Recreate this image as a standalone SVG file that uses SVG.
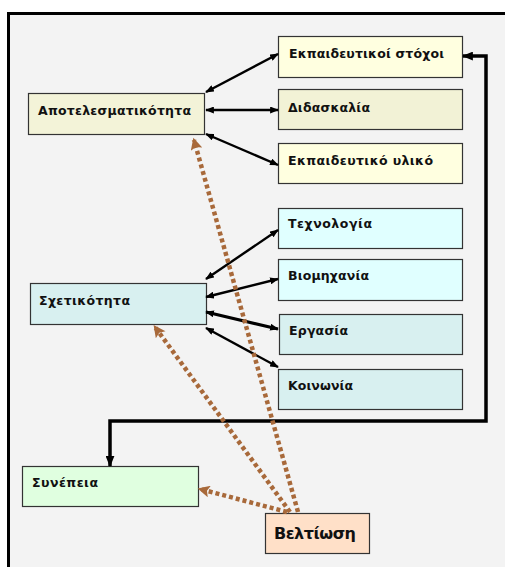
<svg xmlns="http://www.w3.org/2000/svg" width="505" height="567" viewBox="0 0 505 567">
<defs>
<marker id="ah" viewBox="0 0 10 8" refX="9" refY="4" markerWidth="9" markerHeight="7" markerUnits="userSpaceOnUse" orient="auto-start-reverse"><path d="M0,0 L10,4 L0,8 z" fill="#000"/></marker>
<marker id="ahb" viewBox="0 0 10 8" refX="9" refY="4" markerWidth="11" markerHeight="9" markerUnits="userSpaceOnUse" orient="auto-start-reverse"><path d="M0,0 L10,4 L0,8 z" fill="#000"/></marker>
<marker id="ab" viewBox="0 0 10 10" refX="8" refY="5" markerWidth="13" markerHeight="12" markerUnits="userSpaceOnUse" orient="auto"><path d="M0,0 L10,5 L0,10 L2,5 z" fill="#a8693a"/></marker>
</defs>
<style>
.box{stroke:#333;stroke-width:1.2}
.t{font-family:"DejaVu Sans","Liberation Sans",sans-serif;font-weight:bold;font-size:12.5px;fill:#111}
.big{font-size:16px}
.c{fill:none;stroke:#000;stroke-width:2.4}
.d{fill:none;stroke:#a8693a;stroke-width:4.5;stroke-dasharray:4 3}
</style>
<rect x="0" y="0" width="505" height="567" fill="#fff"/>
<rect x="8.5" y="13.5" width="510" height="570" fill="#f3f3f3" stroke="#000" stroke-width="3"/>

<g id="n-stoxoi"><rect class="box" x="278.5" y="36.5" width="184" height="41" fill="#ffffe0"/><text class="t" x="289" y="57.5" textLength="155" lengthAdjust="spacing">Εκπαιδευτικοί στόχοι</text></g>
<g id="n-didaskalia"><rect class="box" x="278.5" y="89.5" width="184" height="40" fill="#f2f2d6"/><text class="t" x="288" y="111.5" textLength="82" lengthAdjust="spacing">Διδασκαλία</text></g>
<g id="n-yliko"><rect class="box" x="278.5" y="143.5" width="184" height="40" fill="#ffffe0"/><text class="t" x="288" y="164.5" textLength="145" lengthAdjust="spacing">Εκπαιδευτικό υλικό</text></g>
<g id="n-apotel"><rect class="box" x="28.5" y="93.5" width="176" height="41" fill="#f3f3d8"/><text class="t" x="38" y="114.5" textLength="153" lengthAdjust="spacing">Αποτελεσματικότητα</text></g>
<g id="n-tech"><rect class="box" x="278.5" y="208.5" width="184" height="40" fill="#e0ffff"/><text class="t" x="288" y="227.5" textLength="84" lengthAdjust="spacing">Τεχνολογία</text></g>
<g id="n-viom"><rect class="box" x="278.5" y="259.5" width="184" height="41" fill="#e0ffff"/><text class="t" x="288" y="279.5" textLength="81" lengthAdjust="spacing">Βιομηχανία</text></g>
<g id="n-ergasia"><rect class="box" x="279.5" y="314.5" width="183" height="40" fill="#d8f0f0"/><text class="t" x="289" y="334.5" textLength="59" lengthAdjust="spacing">Εργασία</text></g>
<g id="n-koinonia"><rect class="box" x="278.5" y="369.5" width="184" height="40" fill="#d8f0f0"/><text class="t" x="288" y="389.5" textLength="65" lengthAdjust="spacing">Κοινωνία</text></g>
<g id="n-sxetik"><rect class="box" x="30.5" y="283.5" width="176" height="41" fill="#d8f0f0"/><text class="t" x="39" y="304.5" textLength="91" lengthAdjust="spacing">Σχετικότητα</text></g>
<g id="n-synepeia"><rect class="box" x="22.5" y="466.5" width="176" height="40" fill="#e0ffe0"/><text class="t" x="32" y="486.5" textLength="66" lengthAdjust="spacing">Συνέπεια</text></g>
<g id="n-veltiosi"><rect class="box" x="265.5" y="513.5" width="104" height="40" fill="#ffe0c8"/><text class="t big" x="274" y="538.5" textLength="82" lengthAdjust="spacing">Βελτίωση</text></g>

<g id="connectors">
<path class="c" d="M206,92 L278,54" marker-start="url(#ah)" marker-end="url(#ah)"/>
<path class="c" d="M206,110 L278,110" marker-start="url(#ah)" marker-end="url(#ah)"/>
<path class="c" d="M206,134 L278,165" marker-start="url(#ah)" marker-end="url(#ah)"/>
<path class="c" d="M206,279 L278,230" marker-start="url(#ah)" marker-end="url(#ah)"/>
<path class="c" d="M206,297 L278,279" marker-start="url(#ah)" marker-end="url(#ah)"/>
<path class="c" style="stroke-width:3.2" d="M206,312 L278,329" marker-start="url(#ah)" marker-end="url(#ah)"/>
<path class="c" d="M206,328 L278,367" marker-start="url(#ah)" marker-end="url(#ah)"/>
<path class="c" style="stroke-width:3.5" d="M463,56 L486,56 L486,421 L110,421 L110,466" marker-start="url(#ahb)" marker-end="url(#ahb)"/>
<path class="d" d="M298,512 L194,140" marker-end="url(#ab)"/>
<path class="d" d="M290,512 L155,327" marker-end="url(#ab)"/>
<path class="d" d="M287,512 L200,489" marker-end="url(#ab)"/>
</g>
</svg>
